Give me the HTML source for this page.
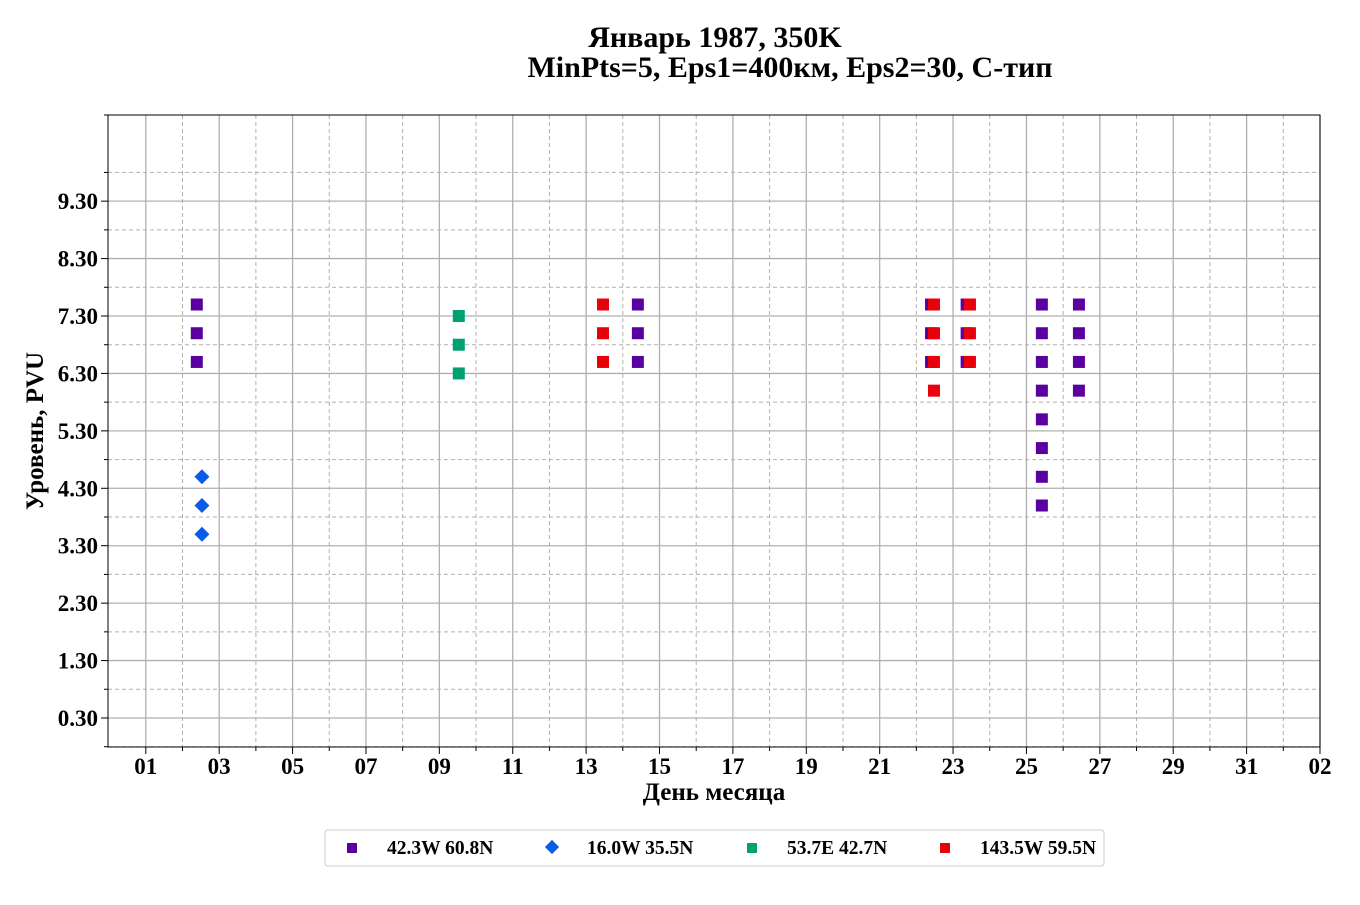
<!DOCTYPE html>
<html><head><meta charset="utf-8"><style>
body{margin:0;background:#fff;font-family:"Liberation Serif","Noto Serif CJK SC",serif;}
svg text{font-family:"Liberation Serif","Noto Serif CJK SC",serif;font-weight:bold;fill:#000;}
</style></head><body>
<svg id="chart" width="1360" height="900" xmlns="http://www.w3.org/2000/svg">
<text x="715" y="47" font-size="30" text-anchor="middle">Январь 1987, 350K</text>
<text x="790" y="77" font-size="30" text-anchor="middle">MinPts=5, Eps1=400км, Eps2=30, С-тип</text>
<g id="grid"></g>
<g id="ticks"></g>
<g id="marks"></g>
<rect x="108" y="115" width="1212" height="632" fill="none" stroke="#000" stroke-width="1"/>
<text x="714" y="800" font-size="25" text-anchor="middle">День месяца</text>
<text x="0" y="0" font-size="25" text-anchor="middle" transform="translate(43,431) rotate(-90)">Уровень, PVU</text>
<g>
<rect x="325" y="830" width="779" height="36" rx="3" fill="#fff" stroke="#ccc"/>
<rect x="347" y="843" width="10" height="10" fill="#5a00a0"/>
<text x="387" y="854" font-size="19.5">42.3W 60.8N</text>
<rect x="547" y="842" width="10" height="10" fill="#0a5ce6" transform="rotate(45 552 847)"/>
<text x="587" y="854" font-size="19.5">16.0W 35.5N</text>
<rect x="747" y="843" width="10" height="10" fill="#00a070"/>
<text x="787" y="854" font-size="19.5">53.7E 42.7N</text>
<rect x="940" y="843" width="10" height="10" fill="#e8000b"/>
<text x="980" y="854" font-size="19.5">143.5W 59.5N</text>
</g>
</svg>
<script>
const xTickDays=[1,3,5,7,9,11,13,15,17,19,21,23,25,27,29,31,33];
const xTickLabels=["01","03","05","07","09","11","13","15","17","19","21","23","25","27","29","31","02"];
const yTickValues=[0.3,1.3,2.3,3.3,4.3,5.3,6.3,7.3,8.3,9.3];
const yTickLabels=["0.30","1.30","2.30","3.30","4.30","5.30","6.30","7.30","8.30","9.30"];
const s1Days=[2.39,2.39,2.39,14.41,14.41,14.41,22.4,22.4,22.4,23.37,23.37,23.37,25.42,25.42,25.42,25.42,25.42,25.42,25.42,25.42,26.43,26.43,26.43,26.43];
const s1Vals=[7.5,7.0,6.5,7.5,7.0,6.5,7.5,7.0,6.5,7.5,7.0,6.5,7.5,7.0,6.5,6.0,5.5,5.0,4.5,4.0,7.5,7.0,6.5,6.0];
const s2Days=[2.53,2.53,2.53];
const s2Vals=[4.5,4.0,3.5];
const s3Days=[9.53,9.53,9.53];
const s3Vals=[7.3,6.8,6.3];
const s4Days=[13.46,13.46,13.46,22.48,22.48,22.48,22.48,23.46,23.46,23.46];
const s4Vals=[7.5,7.0,6.5,7.5,7.0,6.5,6.0,7.5,7.0,6.5];

const L=108,R=1320,T=115,B=747,X0=-0.03,X1=33,Y0=-0.205,Y1=10.8;
const xs=d=>L+(d-X0)/(X1-X0)*(R-L);
const ys=v=>B-(v-Y0)/(Y1-Y0)*(B-T);
const NS="http://www.w3.org/2000/svg";
function mk(tag,attrs,parent){const e=document.createElementNS(NS,tag);for(const k in attrs)e.setAttribute(k,attrs[k]);parent.appendChild(e);return e;}
const grid=document.getElementById('grid'),ticks=document.getElementById('ticks'),marks=document.getElementById('marks');
for(let d=2;d<=32;d+=2){const x=xs(d);
 const l=mk('line',{x1:x,x2:x,y1:T,y2:B,stroke:'#b0b0b0','stroke-dasharray':'4,3','stroke-width':1},grid);
 
 
 mk('line',{x1:x,x2:x,y1:B,y2:B+4,stroke:'#000'},ticks);}
for(let v=-0.2;v<=10.8;v+=1){const y=ys(v);
 const l=mk('line',{x1:L,x2:R,y1:y,y2:y,stroke:'#b0b0b0','stroke-dasharray':'4,3','stroke-width':1},grid);
 
 
 mk('line',{x1:L-4,x2:L,y1:y,y2:y,stroke:'#000'},ticks);}
xTickDays.forEach((d,i)=>{const x=xs(d);
 const l=mk('line',{x1:x,x2:x,y1:T,y2:B,stroke:'#b0b0b0','stroke-width':1.3},grid);
 
 
 mk('line',{x1:x,x2:x,y1:B,y2:B+7,stroke:'#000'},ticks);
 const t=mk('text',{x:x,y:774,'font-size':23,'text-anchor':'middle'},ticks);t.textContent=xTickLabels[i];
 
 });
yTickValues.forEach((v,i)=>{const y=ys(v);
 const l=mk('line',{x1:L,x2:R,y1:y,y2:y,stroke:'#b0b0b0','stroke-width':1.3},grid);
 
 
 mk('line',{x1:L-7,x2:L,y1:y,y2:y,stroke:'#000'},ticks);
 const t=mk('text',{x:98,y:y+8,'font-size':23,'text-anchor':'end'},ticks);t.textContent=yTickLabels[i];
 
 });
function sq(days,vals,color,name){days.forEach((d,i)=>{
 const r=mk('rect',{x:xs(d)-6,y:ys(vals[i])-6,width:12,height:12,fill:color},marks);
 
 });}
sq(s1Days,s1Vals,'#5a00a0','point-42w-60n');
s2Days.forEach((d,i)=>{const x=xs(d),y=ys(s2Vals[i]);
 const p=mk('polygon',{points:`${x},${y-7.5} ${x+7.5},${y} ${x},${y+7.5} ${x-7.5},${y}`,fill:'#0a5ce6'},marks);
 
 });
sq(s3Days,s3Vals,'#00a070','point-53e-42n');
sq(s4Days,s4Vals,'#e8000b','point-143w-59n');
</script>
</body></html>
